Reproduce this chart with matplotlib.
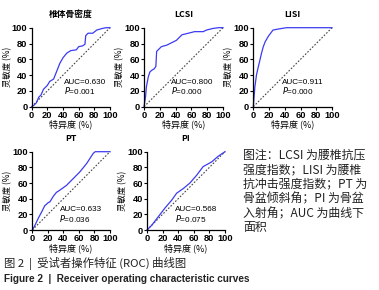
import matplotlib
matplotlib.use("Agg")
import matplotlib.pyplot as plt

plt.rcParams['font.family'] = ['Noto Sans CJK SC', 'DejaVu Sans']

titles = ["椎体骨密度", "LCSI", "LISI", "PT", "PI"]
auc_texts = ["AUC=0.630", "AUC=0.800", "AUC=0.911", "AUC=0.633", "AUC=0.568"]
p_texts = ["0.001", "0.000", "0.000", "0.036", "0.075"]

spec1 = [0, 3, 6, 9, 12, 15, 20, 23, 28, 30, 34, 36, 40, 45, 50, 57, 60, 65, 68, 69, 72, 78, 83, 90, 95, 100]
sens1 = [0, 2, 5, 12, 15, 22, 27, 32, 35, 40, 50, 55, 62, 68, 71, 72, 76, 77, 79, 90, 93, 93, 97, 99, 100, 100]

spec2 = [0, 2, 3, 5.5, 7.5, 9.7, 13, 15, 16, 18, 22, 29, 33, 37, 41, 46, 48, 52, 60, 64, 75, 79, 87, 94, 100]
sens2 = [0, 13, 25, 38, 44, 46, 48, 51, 70, 72, 76, 78, 80, 82, 84, 89, 91, 92, 94, 95, 95, 97, 99, 100, 100]

spec3 = [0, 1, 2, 4, 6, 8.4, 10.5, 12.7, 15, 19, 22, 25, 30, 42, 100]
sens3 = [0, 13, 25, 40, 49, 59, 68, 76, 82, 89, 93, 97, 98, 100, 100]

spec4 = [0, 3.4, 7.7, 12, 16, 20.6, 22.7, 27, 31, 35.6, 44, 53, 61, 70, 78.5, 81, 100]
sens4 = [0, 6, 15, 23, 31, 35, 36, 43, 48, 51, 57, 66, 74, 85, 98, 100, 100]

spec5 = [0, 6, 14.5, 23, 31.6, 38, 46.6, 55, 63.7, 72, 83, 91, 100]
sens5 = [0, 6, 17, 28, 38, 47, 53, 60, 70, 81, 87, 94, 100]

specs = [spec1, spec2, spec3, spec4, spec5]
senss = [sens1, sens2, sens3, sens4, sens5]
ticks = [0, 20, 40, 60, 80, 100]

W, H = 379, 290
fig = plt.figure(figsize=(W / 100, H / 100), dpi=100)

# axes boxes in pixels: (left, top, right, bottom)
boxes = [(31.7, 27.7, 110, 106.7), (144, 27.7, 223, 106.7), (253.3, 27.7, 332, 106.7),
         (32.3, 151.7, 110, 230), (147, 151.7, 225, 230)]
text_pos = [(41, 31), (34, 31), (37, 31), (35, 26), (36, 26)]

line_color = '#3b3bf2'
num_font = ['Liberation Sans', 'DejaVu Sans']
for i, (l, t, r, b) in enumerate(boxes):
    ax = fig.add_axes([l / W, 1 - b / H, (r - l) / W, (b - t) / H])
    ax.plot([0, 100], [0, 100], linestyle=(0, (1.5, 1.5)), color='#444444', lw=0.8, clip_on=False)
    ax.plot(specs[i], senss[i], color=line_color, lw=0.9, clip_on=False)
    ax.set_xlim(0, 100)
    ax.set_ylim(0, 100)
    ax.set_xticks(ticks)
    ax.set_yticks(ticks)
    ax.tick_params(labelsize=6.7, length=2, width=0.8, pad=1)
    for lab in ax.get_xticklabels() + ax.get_yticklabels():
        lab.set_fontweight('bold')
        lab.set_family(num_font)
    for s in ['top', 'right']:
        ax.spines[s].set_visible(False)
    for s in ['left', 'bottom']:
        ax.spines[s].set_linewidth(0.9)
    ax.set_xlabel("特异度 (%)", fontsize=6.5, labelpad=0)
    ax.set_ylabel("灵敏度 (%)", fontsize=6.0, labelpad=0)
    ax.set_title(titles[i], fontsize=6.3, fontweight='bold', pad=8)
    tx, ty = text_pos[i]
    ax.text(tx, ty, auc_texts[i], fontsize=5.9, va='center', ha='left', family=num_font)
    ax.text(tx, ty - 11, "$\\mathit{P}$=" + p_texts[i], fontsize=5.9, va='center', ha='left', family=num_font)

note_lines = ["图注：LCSI 为腰椎抗压", "强度指数；LISI 为腰椎", "抗冲击强度指数；PT 为",
              "骨盆倾斜角；PI 为骨盆", "入射角；AUC 为曲线下", "面积"]
for k, line in enumerate(note_lines):
    fig.text(243 / W, 1 - (155 + 14.6 * k) / H, line, fontsize=8.6, va='center', ha='left', color='#222222')

fig.text(4 / W, 1 - 263 / H, "图 2  |  受试者操作特征 (ROC) 曲线图", fontsize=8.2, va='center', ha='left', color='#222222')
fig.text(4 / W, 1 - 279 / H, "Figure 2  |  Receiver operating characteristic curves", fontsize=7.2,
         fontweight='bold', va='center', ha='left', color='#222222', family=num_font)

fig.savefig("out.png", dpi=100)
